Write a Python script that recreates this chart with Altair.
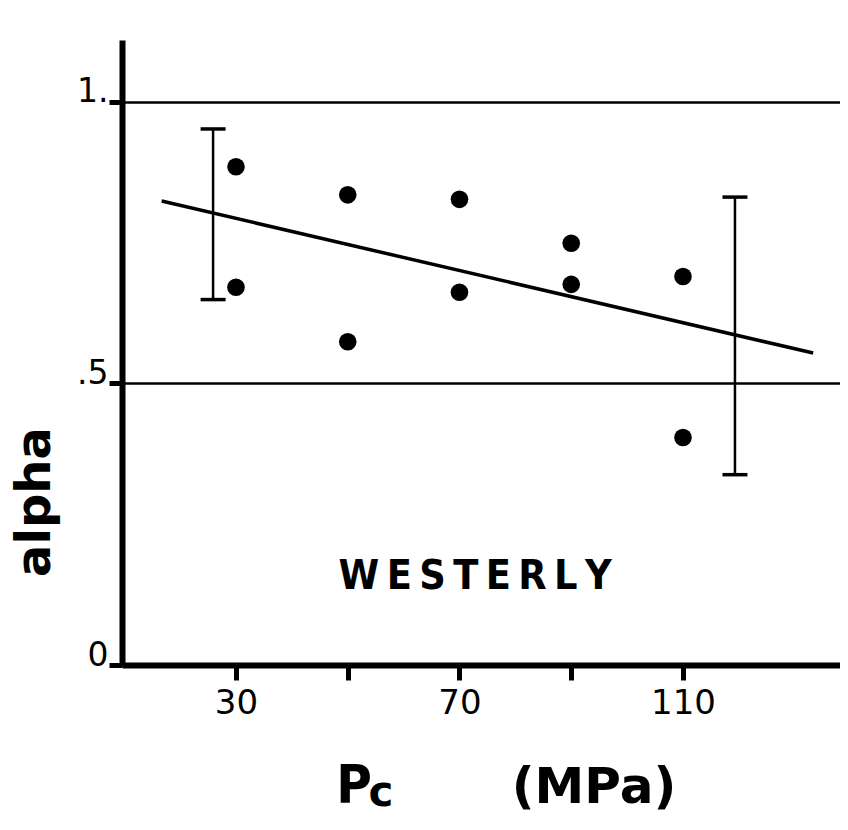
import altair as alt
import pandas as pd

# Data
pc = [30, 30, 50, 50, 70, 70, 90, 90, 110, 110]
alpha = [0.885, 0.671, 0.835, 0.574, 0.827, 0.662, 0.749, 0.676, 0.690, 0.404]

err_x = [25.9, 119.3]
err_lo = [0.649, 0.338]
err_hi = [0.952, 0.831]

fit_x = [16.7, 133.3]
fit_y = [0.824, 0.554]

x_ticks = [30, 50, 70, 90, 110]
y_ticks = [0, 0.5, 1.0]

pts = pd.DataFrame({"pc": pc, "alpha": alpha})
err = pd.DataFrame({"pc": err_x, "lo": err_lo, "hi": err_hi})
fit = pd.DataFrame({"pc": fit_x, "alpha": fit_y})

FONT = "DejaVu Sans"
CFONT = "DejaVu Sans Condensed"

xs = alt.Scale(domain=[9.6, 138.1], nice=False, zero=False)
ys = alt.Scale(domain=[0, 1.11], nice=False, zero=False)

x_axis = alt.Axis(
    values=x_ticks,
    labelExpr="datum.value == 30 || datum.value == 70 || datum.value == 110 ? datum.label : ''",
    title=None, grid=False, tickSize=15, labelPadding=6, labelFontSize=34,
)
y_axis = alt.Axis(
    values=y_ticks,
    labelExpr="datum.value == 1 ? '1.' : datum.value == 0.5 ? '.5' : '0'",
    title=None, grid=True, gridColor="black", gridWidth=2.5, gridOpacity=1,
    tickSize=13, labelPadding=1, labelFontSize=33, labelBaseline="alphabetic",
)

base_pts = alt.Chart(pts).mark_circle(size=310, color="black", opacity=1).encode(
    x=alt.X("pc:Q", scale=xs, axis=x_axis),
    y=alt.Y("alpha:Q", scale=ys, axis=y_axis),
)

line = alt.Chart(fit).mark_line(color="black", strokeWidth=3.5).encode(
    x=alt.X("pc:Q", scale=xs), y=alt.Y("alpha:Q", scale=ys)
)

bars = alt.Chart(err).mark_rule(color="black", strokeWidth=2.5).encode(
    x=alt.X("pc:Q", scale=xs), y=alt.Y("lo:Q", scale=ys), y2="hi:Q"
)
cap_lo = alt.Chart(err).mark_point(
    shape="M-1,0L1,0", size=625, strokeWidth=3.5, color="black", opacity=1
).encode(x=alt.X("pc:Q", scale=xs), y=alt.Y("lo:Q", scale=ys))
cap_hi = alt.Chart(err).mark_point(
    shape="M-1,0L1,0", size=625, strokeWidth=3.5, color="black", opacity=1
).encode(x=alt.X("pc:Q", scale=xs), y=alt.Y("hi:Q", scale=ys))

one = pd.DataFrame({"k": [0]})

westerly = alt.Chart(one).mark_text(
    text="\u2009".join("WESTERLY"), font=CFONT, fontWeight="bold",
    fontSize=41, color="black", align="center", baseline="middle",
).encode(x=alt.datum(72.8), y=alt.datum(0.156))

ytitle = alt.Chart(one).mark_text(
    text="alpha", font=FONT, fontWeight="bold", fontSize=48, color="black",
    angle=270, align="center", baseline="middle",
).encode(x=alt.value(-86), y=alt.value(462))

p_txt = alt.Chart(one).mark_text(
    text="P", font=CFONT, fontWeight="bold", fontSize=54, color="black",
    align="center", baseline="alphabetic",
).encode(x=alt.value(232), y=alt.value(763))

c_txt = alt.Chart(one).mark_text(
    text="c", font=FONT, fontWeight="bold", fontSize=42, color="black",
    align="center", baseline="alphabetic",
).encode(x=alt.value(259), y=alt.value(766))

mpa_txt = alt.Chart(one).mark_text(
    text="(MPa)", font=FONT, fontWeight="bold", fontSize=50, color="black",
    align="center", baseline="alphabetic",
).encode(x=alt.value(472), y=alt.value(763))

chart = alt.layer(
    base_pts, line, bars, cap_lo, cap_hi, westerly, ytitle, p_txt, c_txt, mpa_txt
).properties(
    width=718, height=625,
    autosize=alt.AutoSizeParams(type="none"),
    padding={"left": 114, "top": 32, "right": 0, "bottom": 150},
    background="white",
).configure_view(stroke=None).configure_axis(
    domainColor="black", domainWidth=6, tickColor="black", tickWidth=5,
    labelColor="black", labelFont=FONT, labelFontWeight="normal",
)

chart.save("out.html", embed_options={"renderer": "svg", "actions": False})
